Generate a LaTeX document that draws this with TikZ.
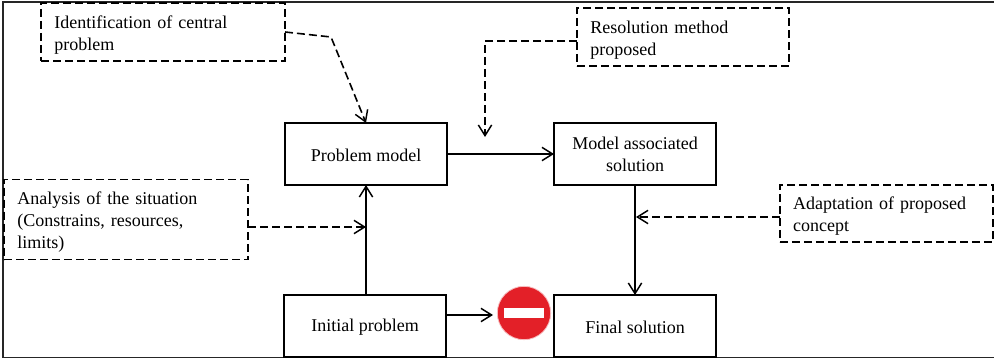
\documentclass[tikz,border=0pt]{standalone}
\usepackage{fontspec}
\setmainfont{Liberation Serif}
\usetikzlibrary{arrows.meta}
\definecolor{signred}{HTML}{E32028}
\tikzset{
  solidbox/.style={draw=black,line width=1.2pt,minimum width=121.5pt,minimum height=46.5pt,inner sep=0pt,outer sep=0pt,align=center,font=\fontsize{13.5}{16.5}\selectfont,execute at begin node={\rule{0pt}{11pt}}},
  notebox/.style={draw=black,line width=1.2pt,dash pattern=on 6pt off 3pt,inner xsep=10pt,inner ysep=0pt,outer sep=0pt,align=left,font=\fontsize{13.5}{16.5}\selectfont,execute at begin node={\rule{0pt}{13.5pt}}},
  flow/.style={line width=1.2pt,-{Straight Barb[length=8pt,width=10pt,line width=1.1pt]}},
  noteflow/.style={line width=1.2pt,dash pattern=on 6pt off 3pt,-{Straight Barb[length=8pt,width=10pt,line width=1.1pt,sep=0pt]}},
  frameline/.style={line width=1pt,draw=black!85},
}
\begin{document}
\begin{tikzpicture}[x=0.75pt,y=-0.75pt]
\useasboundingbox (0,0) rectangle (994,360);
\fill[white] (0,0) rectangle (994,360);
\coordinate (fa) at (3,357.5);
\coordinate (fb) at (3,2);
\coordinate (fc) at (994,2);
\coordinate (fd) at (994,357.5);
\draw[frameline] (fa) -- (fb) -- (fc);
\draw[frameline] (fa) -- (fd);

\node[solidbox] (pm) at (366,154) {Problem model};
\node[solidbox] (ms) at (635,154) {Model associated\\solution};
\node[solidbox] (ip) at (365,326) {Initial problem};
\node[solidbox] (fs) at (635,326) {Final solution};

\node[notebox,text width=163pt,minimum height=43.5pt] (id) at (163,32) {Identification of central\\problem};
\node[notebox,text width=139pt,minimum height=43.5pt] (rm) at (683,37) {Resolution method\\proposed};
\node[notebox,text width=163pt,minimum height=60pt] (an) at (126,219.5) {Analysis of the situation\\(Constrains, resources,\\limits)};
\node[notebox,text width=140pt,minimum height=42.5pt] (ad) at (886.5,213.5) {Adaptation of proposed\\concept};

\node[circle,draw=white!70!signred,line width=0.6pt,fill=signred,minimum size=40pt,inner sep=0pt] (stop) at (524,313) {};
\node[fill=white,minimum width=29.5pt,minimum height=7.5pt,inner sep=0pt] (bar) at (stop.center) {};

\coordinate (idbend) at (331,37);
\coordinate (rmbend) at (485,41);
\coordinate (rmend) at (485,137);
\coordinate (anin) at (366,227);
\coordinate (adin) at (636,217);
\coordinate (stopin) at (493,315);

\draw[noteflow] (id.east) -- (idbend) -- (pm.north);
\draw[noteflow] (rm.west |- rmbend) -- (rmbend) -- (rmend);
\draw[flow] (pm.east) -- (ms.west);
\draw[flow] (ip.north -| pm.south) -- (pm.south);
\draw[noteflow] (an.east |- anin) -- (anin);
\draw[flow] (ip.east |- stopin) -- (stopin);
\draw[flow] (ms.south) -- (fs.north);
\draw[noteflow] (ad.west |- adin) -- (adin);
\end{tikzpicture}
\end{document}
